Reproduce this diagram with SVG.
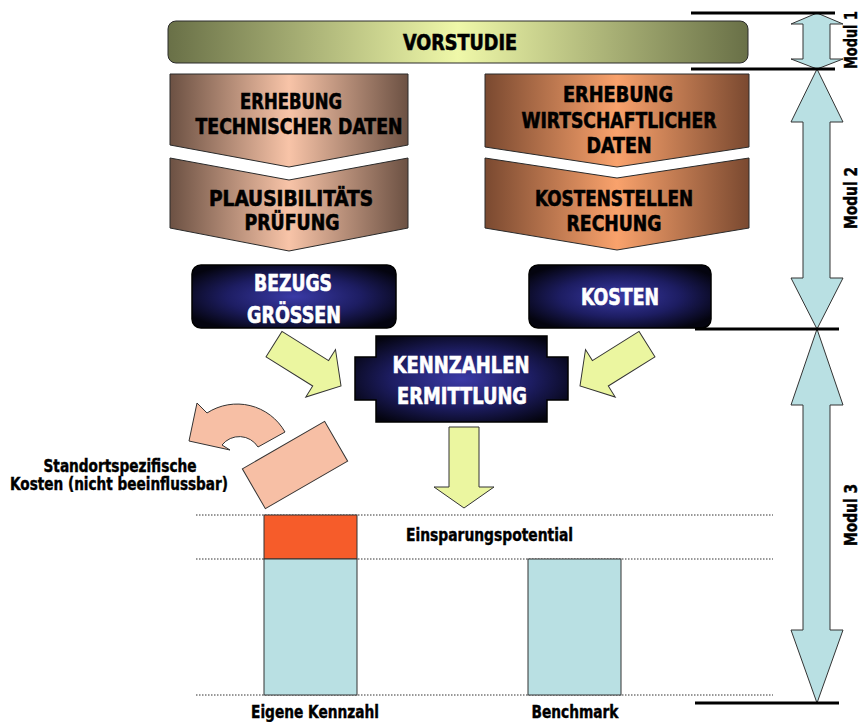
<svg xmlns="http://www.w3.org/2000/svg" width="860" height="722" viewBox="0 0 860 722">
<defs>
<linearGradient id="gOlive" x1="0" y1="0" x2="1" y2="0">
<stop offset="0" stop-color="#697047"/><stop offset="0.5" stop-color="#eff8a9"/><stop offset="1" stop-color="#697047"/>
</linearGradient>
<linearGradient id="gTech" x1="0" y1="0" x2="1" y2="0">
<stop offset="0" stop-color="#6c5143"/><stop offset="0.5" stop-color="#f8c4a8"/><stop offset="1" stop-color="#6c5143"/>
</linearGradient>
<linearGradient id="gWirt" x1="0" y1="0" x2="1" y2="0">
<stop offset="0" stop-color="#7a4930"/><stop offset="0.5" stop-color="#f9a26c"/><stop offset="1" stop-color="#7a4930"/>
</linearGradient>
<radialGradient id="gDark" cx="0.5" cy="0.5" r="0.6">
<stop offset="0" stop-color="#3a3aa6"/><stop offset="0.55" stop-color="#1d1d62"/><stop offset="1" stop-color="#04040f"/>
</radialGradient>
<style>
text{font-family:'DejaVu Sans Condensed','DejaVu Sans','Liberation Sans',sans-serif;font-weight:bold;font-stretch:condensed;}
.t20{font-size:21.5px;fill:#000;stroke:#000;stroke-width:0.6;text-anchor:middle;}
.w22{font-size:23px;fill:#fff;stroke:#fff;stroke-width:0.6;text-anchor:middle;}
.t15{font-size:17px;fill:#000;stroke:#000;stroke-width:0.4;}
.ctr{text-anchor:middle;}
.edge{stroke:#2a2a2a;stroke-width:1;}
.dark{fill:url(#gDark);stroke:#000;stroke-width:1.5;}
.yel{fill:#ebf6a0;stroke:#333;stroke-width:1;}
.sal{fill:#f7bfa5;stroke:#333;stroke-width:1;}
.blue{fill:#b9e0e3;stroke:#333;stroke-width:1;}
.dot{stroke:#333;stroke-width:1;stroke-dasharray:1.5 1.5;fill:none;}
.bar{stroke:#000;stroke-width:3;}
</style>
</defs>
<rect width="860" height="722" fill="#fff"/>

<g id="vorstudie">
<rect x="168" y="21" width="580" height="42" rx="8" fill="url(#gOlive)" class="edge"/>
<text class="t20" x="460" y="50" textLength="114" lengthAdjust="spacingAndGlyphs">VORSTUDIE</text>
</g>

<g id="erhebung-technisch">
<polygon points="170,74 408,74 408,145 289,167 170,145" fill="url(#gTech)" class="edge"/>
<text class="t20" x="291" y="109" textLength="102" lengthAdjust="spacingAndGlyphs">ERHEBUNG</text>
<text class="t20" x="299" y="134" textLength="207" lengthAdjust="spacingAndGlyphs">TECHNISCHER DATEN</text>
</g>
<g id="plausibilitaet">
<polygon points="170,158 289,180 408,158 408,228 289,251 170,228" fill="url(#gTech)" class="edge"/>
<text class="t20" x="291" y="206" textLength="164" lengthAdjust="spacingAndGlyphs">PLAUSIBILITÄTS</text>
<text class="t20" x="292" y="230" textLength="95" lengthAdjust="spacingAndGlyphs">PRÜFUNG</text>
</g>

<g id="erhebung-wirtschaft">
<polygon points="485,74 749,74 749,147 617,167 485,147" fill="url(#gWirt)" class="edge"/>
<text class="t20" x="618" y="102" textLength="110" lengthAdjust="spacingAndGlyphs">ERHEBUNG</text>
<text class="t20" x="619" y="128" textLength="195" lengthAdjust="spacingAndGlyphs">WIRTSCHAFTLICHER</text>
<text class="t20" x="619" y="153" textLength="65" lengthAdjust="spacingAndGlyphs">DATEN</text>
</g>
<g id="kostenstellen">
<polygon points="485,158 617,178 749,158 749,228 617,250 485,228" fill="url(#gWirt)" class="edge"/>
<text class="t20" x="614" y="206" textLength="158" lengthAdjust="spacingAndGlyphs">KOSTENSTELLEN</text>
<text class="t20" x="614" y="231" textLength="95" lengthAdjust="spacingAndGlyphs">RECHUNG</text>
</g>

<g id="bezugsgroessen">
<rect x="192" y="265" width="204" height="63" rx="9" class="dark"/>
<text class="w22" x="293" y="291" textLength="78" lengthAdjust="spacingAndGlyphs">BEZUGS</text>
<text class="w22" x="294" y="323" textLength="94" lengthAdjust="spacingAndGlyphs">GRÖSSEN</text>
</g>
<g id="kosten">
<rect x="529" y="265" width="182" height="63" rx="9" class="dark"/>
<text class="w22" x="620" y="305" textLength="78" lengthAdjust="spacingAndGlyphs">KOSTEN</text>
</g>

<g id="kennzahlen">
<path d="M376,336 H547 V357 H568 V400 H547 V422 H376 V400 H355 V357 H376 Z" class="dark"/>
<text class="w22" x="461" y="373" textLength="137" lengthAdjust="spacingAndGlyphs">KENNZAHLEN</text>
<text class="w22" x="462" y="404" textLength="130" lengthAdjust="spacingAndGlyphs">ERMITTLUNG</text>
</g>

<g id="connectors">
<polygon class="yel" transform="translate(341,386) rotate(32)" points="-79,-15 -24,-15 -24,-28 0,0 -24,28 -24,15 -79,15"/>
<polygon class="yel" transform="translate(580,386) scale(-1,1) rotate(32)" points="-79,-15 -24,-15 -24,-28 0,0 -24,28 -24,15 -79,15"/>
<polygon class="yel" points="449,427 479,427 479,487 494,487 464,508 434,487 449,487"/>
</g>

<g id="standort">
<rect x="247.5" y="442" width="95" height="46" class="sal" transform="rotate(-30 295 465)"/>
<path class="sal" d="M285,432 A55,55 0 0 0 207,413 L197,403 L189,441 L230,450 L222,445 A22,22 0 0 1 258,447 Z"/>
<text class="t15 ctr" x="120" y="472" textLength="153" lengthAdjust="spacingAndGlyphs">Standortspezifische</text>
<text class="t15 ctr" x="119" y="490" textLength="218" lengthAdjust="spacingAndGlyphs">Kosten (nicht beeinflussbar)</text>
</g>

<g id="vergleich">
<line class="dot" x1="196" y1="515" x2="773" y2="515"/>
<line class="dot" x1="196" y1="559" x2="773" y2="559"/>
<line class="dot" x1="196" y1="695" x2="773" y2="695"/>
<rect x="264" y="515" width="93" height="44" fill="#f65c2a" stroke="#333" stroke-width="1"/>
<rect x="264" y="559" width="93" height="136" class="blue"/>
<rect x="528" y="559" width="93" height="136" class="blue"/>
<text class="t15" x="406" y="541" textLength="167" lengthAdjust="spacingAndGlyphs">Einsparungspotential</text>
<text class="t15 ctr" x="315" y="718" textLength="128" lengthAdjust="spacingAndGlyphs">Eigene Kennzahl</text>
<text class="t15 ctr" x="575" y="718" textLength="87" lengthAdjust="spacingAndGlyphs">Benchmark</text>
</g>

<g id="module">
<polygon class="blue" points="817,13 843,24 830,24 830,59 843,59 817,69 791,59 803,59 803,24 791,24"/>
<polygon class="blue" points="817,69 843,122 830,122 830,278 843,278 817,329 791,278 803,278 803,122 791,122"/>
<polygon class="blue" points="817,329 843,405 830,405 830,630 843,630 817,703 791,630 803,630 803,405 791,405"/>
<line class="bar" x1="691" y1="13" x2="835" y2="13"/>
<line class="bar" x1="691" y1="69" x2="835" y2="69"/>
<line class="bar" x1="695" y1="329" x2="839" y2="329"/>
<line class="bar" x1="695" y1="703" x2="839" y2="703"/>
<text class="t15 ctr" transform="translate(857,40) rotate(-90)" textLength="58" lengthAdjust="spacingAndGlyphs">Modul 1</text>
<text class="t15 ctr" transform="translate(857,198) rotate(-90)" textLength="62" lengthAdjust="spacingAndGlyphs">Modul 2</text>
<text class="t15 ctr" transform="translate(857,515) rotate(-90)" textLength="62" lengthAdjust="spacingAndGlyphs">Modul 3</text>
</g>
</svg>
